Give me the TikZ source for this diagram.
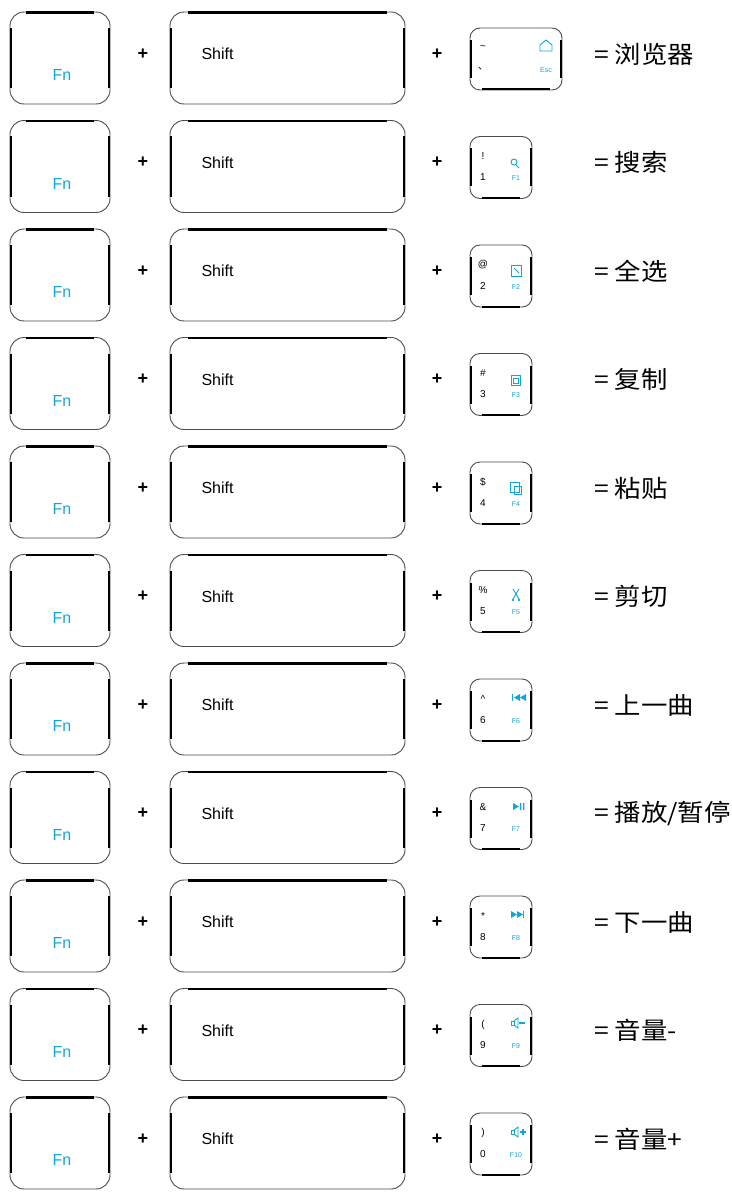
\documentclass[tikz,border=0pt]{standalone}
\usepackage{fontspec}
\setmainfont{Liberation Sans}
\newfontfamily\cjk{Noto Sans CJK SC}
\definecolor{fnblue}{RGB}{20,165,215}
\begin{document}
\begin{tikzpicture}[x=1pt,y=-1pt,
  keyframe/.style={draw=black!70,line width=0.9pt,rounded corners=14pt,fill=white},
  keythick/.style={line width=2.6pt,black},
  fntext/.style={text=fnblue,font=\fontsize{16}{16}\selectfont},
  shifttext/.style={anchor=west,font=\fontsize{16}{16}\selectfont},
  plustext/.style={font=\bfseries\fontsize{18}{18}\selectfont},
  smalltext/.style={font=\fontsize{10}{10}\selectfont,inner sep=0pt},
  smallblue/.style={font=\fontsize{7}{7}\selectfont,inner sep=0pt,text=fnblue},
  result/.style={anchor=west,font=\cjk\fontsize{24}{24}\selectfont,inner sep=0pt,xscale=1.1},
  ic/.style={fnblue,line width=0.9pt}]
\useasboundingbox (0,0) rectangle (731,1193);
\fill[white] (0,0) rectangle (731,1193);
\foreach \i/\sym/\dig/\fl/\res/\w in {1/\textasciitilde/{\cjk 、}/Esc/浏览器/92,2/!/1/F1/搜索/62,3/@/2/F2/全选/62,4/\#/3/F3/复制/62,5/\$/4/F4/粘贴/62,6/\%/5/F5/剪切/62,7/\textasciicircum/6/F6/上一曲/62,8/\&/7/F7/{播放/暂停}/62,9/*/8/F8/下一曲/62,10/(/9/F9/音量-/62,11/)/0/F10/音量+/62}{
  \pgfmathsetmacro\cy{58+108.5*(\i-1)}
  \draw[keyframe] (10,\cy-46) rectangle (110,\cy+46);
  \draw[keythick] (11,\cy-30) -- (11,\cy+30) (109,\cy-30) -- (109,\cy+30) (26,\cy-45.5) -- (94,\cy-45.5);
  \node[fntext] (fn\i) at (62,\cy+17) {Fn};
  \node[plustext] (pa\i) at (143,\cy-4) {+};
  \draw[keyframe] (170,\cy-46) rectangle (405,\cy+46);
  \draw[keythick] (171,\cy-30) -- (171,\cy+30) (404,\cy-30) -- (404,\cy+30) (188,\cy-45.5) -- (387,\cy-45.5);
  \node[shifttext] (sh\i) at (198,\cy-4) {Shift};
  \node[plustext] (pb\i) at (437,\cy-4) {+};
  \pgfmathsetmacro\xr{470+\w}
  \draw[keyframe,rounded corners=10pt] (470,\cy-30) rectangle (\xr,\cy+32);
  \draw[keythick,line width=2pt] (471,\cy-18) -- (471,\cy+20) (\xr-1,\cy-18) -- (\xr-1,\cy+20) (482,\cy+31.5) -- (\xr-12,\cy+31.5);
  \node[smalltext] (sy\i) at (483,\cy-10) {\sym};
  \node[smalltext] (dg\i) at (483,\cy+11) {\dig};
  \node[smallblue] (fk\i) at (\xr-16,\cy+12) {\fl};
  \node[result] (rs\i) at (594,\cy-4) {= \res};
}
\begin{scope}[ic]
  \draw (540,51) -- (540,45) -- (546,40) -- (552,45) -- (552,51) -- cycle;
  \draw (514,162) circle (3pt); \draw (516,165) -- (519,168);
  \draw (511,265) rectangle (521,276); \draw (514,268) -- (519,273);
  \draw (511,375) rectangle (520,385); \draw (513,378) rectangle (518,383);
  \draw (510,482) rectangle (519,492); \draw (514,486) rectangle (521,494);
  \draw (513,589) -- (519,599) (519,589) -- (513,599); \fill (513,600) circle (1.3pt) (519,600) circle (1.3pt);
  \fill (512,694) rectangle (513.2,701);
  \fill (520,694) -- (514,697.5) -- (520,701) -- cycle;
  \fill (526,694) -- (520,697.5) -- (526,701) -- cycle;
  \fill (513,803) -- (519,806.5) -- (513,810) -- cycle;
  \fill (520,803) rectangle (521.3,810) (523,803) rectangle (524.3,810);
  \fill (511,911) -- (517,914.5) -- (511,918) -- cycle;
  \fill (517,911) -- (523,914.5) -- (517,918) -- cycle;
  \fill (523,911) rectangle (524.3,918);
  \draw (511,1021) rectangle (514,1025); \draw (514,1021) -- (518,1018) -- (518,1028) -- (514,1025);
  \draw[line width=1.3pt] (519,1023) -- (525,1023);
  \draw (511,1130) rectangle (514,1134); \draw (514,1130) -- (518,1127) -- (518,1137) -- (514,1134);
  \draw[line width=1.1pt] (520,1132) -- (526,1132) (523,1129) -- (523,1135);
\end{scope}
\end{tikzpicture}
\end{document}
